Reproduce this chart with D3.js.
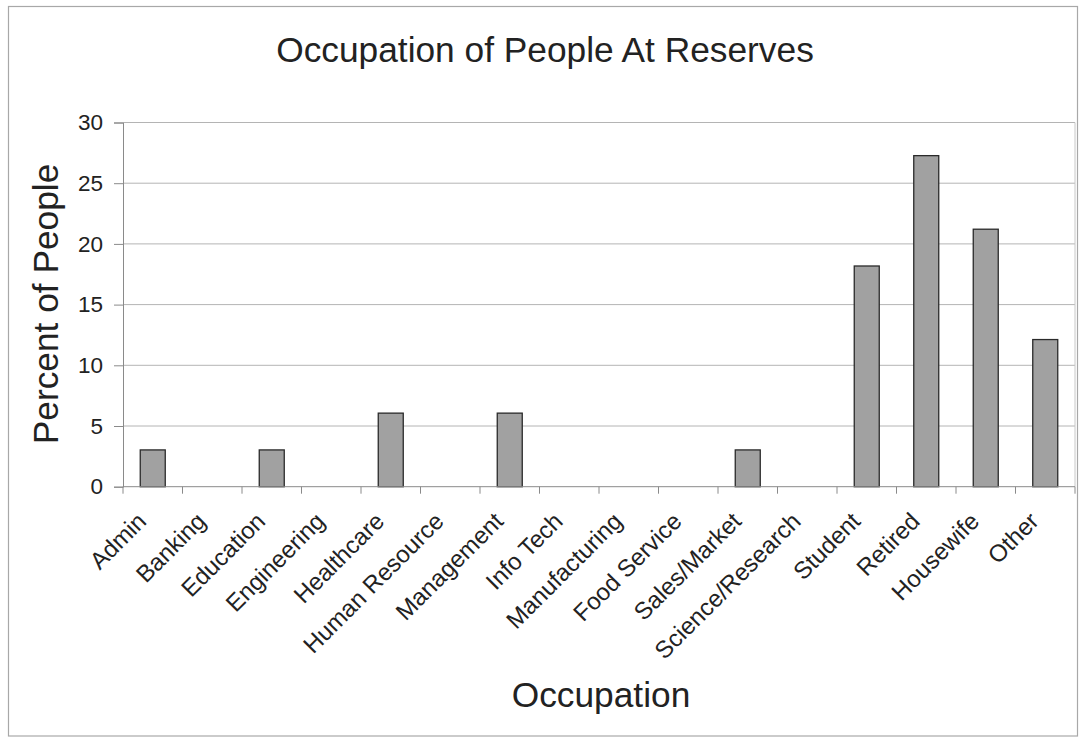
<!DOCTYPE html>
<html>
<head>
<meta charset="utf-8">
<script src="https://cdn.jsdelivr.net/npm/d3@7/dist/d3.min.js"></script>
<style>
  html, body { margin: 0; padding: 0; background: #fff; }
  svg { display: block; font-family: "Liberation Sans", Arial, sans-serif; }
</style>
</head>
<body>
<svg id="chart" width="1082" height="739"></svg>
<script>
// Occupation categories and the share of people (%) in each
const categories = [
  "Admin", "Banking", "Education", "Engineering", "Healthcare",
  "Human Resource", "Management", "Info Tech", "Manufacturing",
  "Food Service", "Sales/Market", "Science/Research", "Student",
  "Retired", "Housewife", "Other"
];
const percents = [
  3.03, 0, 3.03, 0, 6.06,
  0, 6.06, 0, 0,
  0, 3.03, 0, 18.18,
  27.27, 21.21, 12.12
];
const yTicks = [0, 5, 10, 15, 20, 25, 30];

const chartTitle = "Occupation of People At Reserves";
const xTitle = "Occupation";
const yTitle = "Percent of People";

const plot = { left: 123, right: 1075, top: 122.5, bottom: 486.7 };

const svg = d3.select("#chart");

// outer frame
svg.append("rect")
  .attr("x", 8.5).attr("y", 6.5)
  .attr("width", 1069).attr("height", 729.5)
  .attr("fill", "#fff")
  .attr("stroke", "#a8a8a8").attr("stroke-width", 1.2);

const x = d3.scaleBand()
  .domain(categories)
  .range([plot.left, plot.right])
  .paddingInner(0.58)
  .paddingOuter(0.29);

const y = d3.scaleLinear()
  .domain([0, 30])
  .range([plot.bottom, plot.top]);

// horizontal gridlines
svg.append("g")
  .selectAll("line")
  .data(yTicks.filter(t => t > 0))
  .join("line")
  .attr("x1", plot.left).attr("x2", plot.right)
  .attr("y1", d => y(d)).attr("y2", d => y(d))
  .attr("stroke", "#b4b4b4").attr("stroke-width", 1);

// right edge of plot area
svg.append("line")
  .attr("x1", plot.right).attr("x2", plot.right)
  .attr("y1", plot.top).attr("y2", plot.bottom)
  .attr("stroke", "#c8c8c8").attr("stroke-width", 1);

// bars
svg.append("g")
  .selectAll("rect")
  .data(categories.map((c, i) => ({ c, v: percents[i] })).filter(d => d.v > 0))
  .join("rect")
  .attr("x", d => x(d.c))
  .attr("y", d => y(d.v))
  .attr("width", x.bandwidth())
  .attr("height", d => y(0) - y(d.v))
  .attr("fill", "#a1a1a1")
  .attr("stroke", "#2a2a2a").attr("stroke-width", 1.3);

// y axis
const yAxis = d3.axisLeft(y).tickValues(yTicks).tickSize(9).tickPadding(11);
const gy = svg.append("g")
  .attr("transform", `translate(${plot.left},0)`)
  .call(yAxis);
gy.select(".domain").attr("stroke", "#8a8a8a");
gy.selectAll(".tick line").attr("stroke", "#8a8a8a");
gy.selectAll(".tick text")
  .attr("fill", "#222")
  .style("font-size", "22.5px")
  .style("font-family", "'Liberation Sans', Arial, sans-serif");

// x axis: ticks at category boundaries
const boundaries = categories.map(c => x(c) + x.bandwidth() / 2 - x.step() / 2)
  .concat([x(categories[categories.length - 1]) + x.bandwidth() / 2 + x.step() / 2]);
const gx = svg.append("g");
gx.append("line")
  .attr("x1", plot.left).attr("x2", plot.right)
  .attr("y1", plot.bottom).attr("y2", plot.bottom)
  .attr("stroke", "#8a8a8a");
gx.selectAll("line.tk")
  .data(boundaries)
  .join("line")
  .attr("class", "tk")
  .attr("x1", d => d).attr("x2", d => d)
  .attr("y1", plot.bottom).attr("y2", plot.bottom + 7)
  .attr("stroke", "#8a8a8a");

// category labels rotated 45°
gx.selectAll("text")
  .data(categories)
  .join("text")
  .attr("transform", d => `translate(${x(d) + x.bandwidth() / 2 - 5},${plot.bottom + 36}) rotate(-45)`)
  .attr("text-anchor", "end")
  .attr("fill", "#222")
  .style("font-size", "24px")
  .text(d => d);

// titles
svg.append("text")
  .attr("x", 545).attr("y", 62)
  .attr("text-anchor", "middle")
  .attr("fill", "#222")
  .style("font-size", "35.3px")
  .text(chartTitle);

svg.append("text")
  .attr("x", 601).attr("y", 707)
  .attr("text-anchor", "middle")
  .attr("fill", "#222")
  .style("font-size", "35.3px")
  .text(xTitle);

svg.append("text")
  .attr("transform", `translate(58,304) rotate(-90)`)
  .attr("text-anchor", "middle")
  .attr("fill", "#222")
  .style("font-size", "35.3px")
  .text(yTitle);
</script>
</body>
</html>
